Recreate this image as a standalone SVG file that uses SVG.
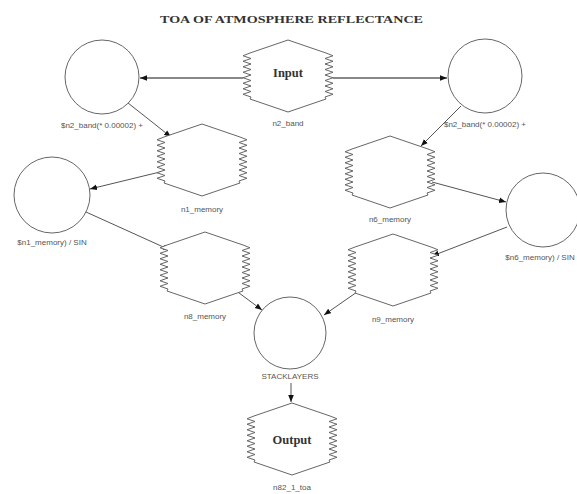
<svg xmlns="http://www.w3.org/2000/svg" width="577" height="494" viewBox="0 0 577 494">
<style>
.title{font-family:"Liberation Serif",serif;font-weight:bold;font-size:11px;fill:#333}
.big{font-family:"Liberation Serif",serif;font-weight:bold;font-size:12.5px;fill:#333;text-anchor:middle}
.lbl{font-family:"Liberation Sans",sans-serif;font-size:8px;fill:#555;text-anchor:middle}
.shape{fill:#fff;stroke:#666;stroke-width:1}
.conn{stroke:#555;stroke-width:1;fill:none;marker-end:url(#arr)}
.thick{stroke:#888;stroke-width:2;fill:none;marker-end:url(#arr)}
</style>
<defs>
<marker id="arr" viewBox="0 0 10 10" refX="10" refY="5" markerWidth="7" markerHeight="7" markerUnits="userSpaceOnUse" orient="auto">
<path d="M0,1 L10,5 L0,9 Z" fill="#111"/>
</marker>
<path id="hex" class="shape" d="M0,0 L-38,13 L-45,15.75 L-37,18.5 L-45,21.25 L-37,24 L-45,26.75 L-37,29.5 L-45,32.25 L-37,35 L-45,37.75 L-37,40.5 L-45,43.25 L-37,46 L-45,48.75 L-37,51.5 L-45,54.25 L-37,57 L-38,59 L0,72 L38,59 L37,57 L45,54.25 L37,51.5 L45,48.75 L37,46 L45,43.25 L37,40.5 L45,37.75 L37,35 L45,32.25 L37,29.5 L45,26.75 L37,24 L45,21.25 L37,18.5 L45,15.75 L38,13 Z"/>
</defs>
<rect width="577" height="494" fill="#fff"/>
<text class="title" x="160" y="23" textLength="263" lengthAdjust="spacingAndGlyphs">TOA OF ATMOSPHERE REFLECTANCE</text>

<g id="connectors">
<line class="thick" x1="243" y1="78" x2="140" y2="78"/>
<line class="thick" x1="333" y1="78" x2="447" y2="78"/>
<line class="conn" x1="128" y1="103" x2="171" y2="137"/>
<line class="conn" x1="164" y1="171" x2="90" y2="189"/>
<line class="conn" x1="86" y1="212" x2="170" y2="250"/>
<line class="conn" x1="235" y1="290" x2="262" y2="310"/>
<line class="conn" x1="461" y1="106" x2="421" y2="146"/>
<line class="conn" x1="432" y1="182" x2="506" y2="202"/>
<line class="conn" x1="507" y1="227" x2="432" y2="256"/>
<line class="conn" x1="357" y1="292" x2="324" y2="315"/>
<line class="conn" x1="291" y1="383" x2="291" y2="402"/>
</g>

<g id="input"><use href="#hex" x="288" y="40"/><text class="big" x="288" y="77">Input</text><text class="lbl" x="288" y="126">n2_band</text></g>
<g id="n1_memory"><use href="#hex" x="202" y="124"/><text class="lbl" x="202" y="212">n1_memory</text></g>
<g id="n6_memory"><use href="#hex" x="390" y="136"/><text class="lbl" x="390" y="222">n6_memory</text></g>
<g id="n8_memory"><use href="#hex" x="205" y="232"/><text class="lbl" x="205" y="319">n8_memory</text></g>
<g id="n9_memory"><use href="#hex" x="393" y="234"/><text class="lbl" x="393" y="322">n9_memory</text></g>
<g id="output"><use href="#hex" x="292" y="403"/><text class="big" x="292" y="444">Output</text><text class="lbl" x="292" y="490">n82_1_toa</text></g>

<g id="calc1"><circle class="shape" cx="102" cy="77" r="37"/><text class="lbl" x="102" y="128">$n2_band(* 0.00002) +</text></g>
<g id="calc2"><circle class="shape" cx="485" cy="76" r="37"/><text class="lbl" x="485" y="127">$n2_band(* 0.00002) +</text></g>
<g id="calc3"><circle class="shape" cx="52" cy="195" r="38"/><text class="lbl" x="52" y="245">$n1_memory) / SIN</text></g>
<g id="calc4"><circle class="shape" cx="543" cy="210" r="37"/><text class="lbl" x="540" y="260">$n6_memory) / SIN</text></g>
<g id="stack"><circle class="shape" cx="290" cy="333" r="36"/><text class="lbl" x="290" y="379">STACKLAYERS</text></g>
</svg>
